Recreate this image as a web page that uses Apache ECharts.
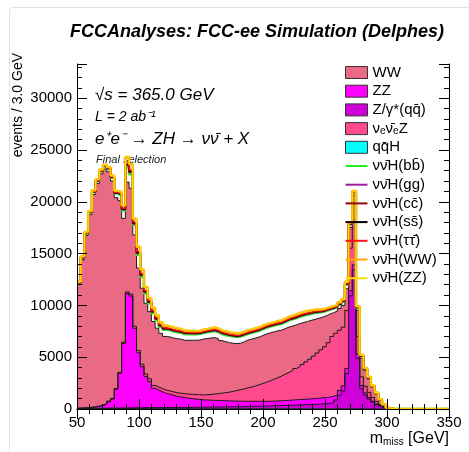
<!DOCTYPE html>
<html>
<head>
<meta charset="utf-8">
<script src="https://cdn.jsdelivr.net/npm/echarts@6/dist/echarts.min.js"></script>
<style>
  html, body { margin: 0; padding: 0; background: #fff; }
  #chart { width: 469px; height: 452px; }
</style>
</head>
<body>
<div id="chart"></div>
<script>
// histogram binning: 3 GeV bins from 50 to 350 GeV
const binStart = 50
const binWidth = 3
const xRange = [50, 350]
const yRange = [0, 33300]

// backgrounds, stacked bottom -> top
const qqH = [20,20,20,25,25,25,30,30,30,30, 35,35,40,40,40,40,35,35,35,30, 30,30,30,25,25,25,25,25,20,20,
  20,20,20,20,20,20,20,20,20,20, 20,20,20,20,20,20,20,20,20,20, 20,20,20,20,20,20,20,20,20,20,
  15,15,15,15,15,15,15,15,10,10, 10,10,15,20,20,10,8,6,5,4, 3,2,1,0,0,0,0,0,0,0, 0,0,0,0,0,0,0,0,0,0]
const zgamma = [40,40,40,45,45,50,50,50,50,55, 60,60,60,70,70,80,80,90,100,100, 100,110,110,110,120,120,120,130,130,130,
  140,140,150,150,160,160,170,170,180,180, 190,190,200,200,210,220,230,240,250,260, 270,280,290,300,310,320,330,340,360,370,
  390,400,420,440,460,480,500,530,600,850, 1300,1750,3400,10900,13400,4900,1950,1350,950,650, 420,230,90,18,4,0,0,0,0,0, 0,0,0,0,0,0,0,0,0,0]
const zz = [10,20,40,60,120,170,250,400,620,870, 1800,3350,6230,11040,10790,7660,5320,3960,2990,2510, 1870,1690,1530,1380,1280,1180,1080,1010,950,890,
  840,800,760,710,690,670,650,630,610,600, 580,560,550,530,520,500,490,480,470,460, 450,450,450,460,470,480,490,500,510,520,
  530,540,550,560,570,580,590,600,620,500, 480,470,500,500,500,400,300,200,150,100, 70,40,20,5,1,0,0,0,0,0, 0,0,0,0,0,0,0,0,0,0]
const nuenueZ = [20,25,30,35,40,45,50,55,60,70, 80,100,120,150,180,200,220,240,260,270, 280,290,300,310,320,330,340,360,380,400,
  420,440,450,470,510,560,600,660,720,780, 840,930,1010,1110,1200,1300,1390,1490,1600,1720, 1840,1970,2110,2240,2380,2540,2690,2850,3020,3180,
  3370,3600,3820,4090,4360,4630,4900,5260,5770,5940, 5810,5670,5600,4100,4300,1700,850,650,500,350, 230,150,80,17,5,0,0,0,0,0, 0,0,0,0,0,0,0,0,0,0]
const ww = [11960,14300,16620,18590,20470,21470,22320,22620,22140,20980, 18420,16560,11950,10600,10220,8820,7950,7330,6820,6490,
  6170,5680,5330,5180,5210,5190,5220,5210,5150,5190, 5210,5240,5270,5400,5420,5440,5460,5320,5070,4920,
  4770,4650,4520,4490,4550,4610,4620,4620,4610,4640, 4670,4630,4580,4530,4420,4400,4380,4300,4210,4160,
  4050,3900,3750,3550,3350,3150,3000,2750,2300,2150, 2100,2100,2100,2000,2400,2500,1800,1500,1300,1000,
  730,430,190,40,10,0,0,0,0,0, 0,0,0,0,0,0,0,0,0,0]

// signals, stacked on top of the backgrounds (lines only)
const hbb = [150,200,200,220,250,250,250,260,280,320, 400,500,750,1400,1350,950,1250,1100,950,800, 800,780,650,640,640,630,620,610,600,590,
  580,580,580,590,600,610,620,630,640,650, 650,650,650,640,620,600,600,600,600,600, 600,600,600,600,610,620,640,650,660,660,
  660,650,630,600,550,500,460,430,400,380, 370,360,400,300,250,250,200,150,120,100, 80,60,40,20,10,0,0,0,0,0, 0,0,0,0,0,0,0,0,0,0]
const hgg = [20,30,30,35,40,40,40,40,40,50, 60,80,110,200,200,140,180,160,140,120, 120,110,100,100,90,90,90,80,80,80,
  70,70,70,70,70,80,80,80,80,80, 80,80,80,80,80,80,80,80,80,80, 80,80,80,80,80,80,80,80,80,80,
  80,80,80,80,70,60,60,60,50,50, 50,50,60,50,40,40,30,20,20,20, 10,10,10,0,0,0,0,0,0,0, 0,0,0,0,0,0,0,0,0,0]
const hcc = [8,10,10,10,12,12,12,12,14,16, 20,25,40,70,70,50,60,55,50,40, 40,40,35,30,30,30,30,30,25,25,
  25,25,25,25,25,25,25,25,25,25, 25,25,25,25,25,25,25,25,25,25, 25,25,25,25,25,25,25,25,25,25,
  25,25,25,25,25,20,20,20,20,20, 20,20,20,15,12,12,10,8,6,5, 4,3,2,1,0,0,0,0,0,0, 0,0,0,0,0,0,0,0,0,0]
const hss = [1,1,1,1,1,1,1,1,1,1, 2,2,3,5,5,3,4,4,3,3, 2,2,2,2,2,2,2,2,2,2,
  2,2,2,2,2,2,2,2,2,2, 2,2,2,2,2,2,2,2,2,2, 2,2,2,2,2,2,2,2,2,2,
  2,2,2,2,2,2,2,2,2,2, 2,2,2,1,1,1,1,1,1,1, 0,0,0,0,0,0,0,0,0,0, 0,0,0,0,0,0,0,0,0,0]
const htautau = [15,20,20,22,25,25,25,26,28,32, 40,50,75,140,135,95,125,110,95,80, 80,78,65,64,62,60,58,56,52,50,
  48,47,46,47,48,50,52,53,54,55, 55,55,55,54,52,50,50,50,50,50, 50,50,50,50,51,52,54,55,56,56,
  56,55,53,50,45,40,38,36,35,35, 35,35,40,30,25,25,20,15,12,10, 8,6,4,2,1,0,0,0,0,0, 0,0,0,0,0,0,0,0,0,0]
const hww = [50,70,70,80,90,90,90,90,100,110, 140,180,260,600,560,330,440,380,330,280, 280,270,230,220,220,210,200,200,180,180,
  170,160,160,160,170,180,180,190,190,190, 190,190,190,190,180,180,180,180,180,180, 180,180,180,180,180,180,190,190,200,200,
  200,190,190,180,160,140,130,130,120,120, 120,120,140,100,90,90,70,50,40,35, 30,20,15,8,4,0,0,0,0,0, 0,0,0,0,0,0,0,0,0,0]
const hzz = [8,10,10,10,12,12,12,12,14,16, 20,25,40,80,75,50,60,55,50,40, 40,40,35,30,30,30,30,30,25,25,
  25,25,25,25,25,25,25,25,25,25, 25,25,25,25,25,25,25,25,25,25, 25,25,25,25,25,25,25,25,25,25,
  25,25,25,25,25,20,20,20,20,20, 20,20,20,15,12,12,10,8,6,5, 4,3,2,1,0,0,0,0,0,0, 0,0,0,0,0,0,0,0,0,0]

const font = 'Liberation Sans, Arial, Helvetica, sans-serif'
const qbar = 'q\u0304'
const nnH = '\u03bd\u03bd\u0304H'

// stacking order, bottom -> top
const layers = [
  { name: 'q' + qbar + 'H', values: qqH, fill: '#00ffff' },
  { name: 'Z/\u03b3*(q' + qbar + ')', values: zgamma, fill: '#d000d8' },
  { name: 'ZZ', values: zz, fill: '#ff00ff' },
  { name: '\u03bd\u2091\u03bd\u0304\u2091Z', values: nuenueZ, fill: '#ff4a8d' },
  { name: 'WW', values: ww, fill: '#ea6a86' },
  { name: nnH + '(bb\u0304)', values: hbb, color: '#22ee22', width: 2.5 },
  { name: nnH + '(gg)', values: hgg, color: '#9a1fa0', width: 2 },
  { name: nnH + '(cc\u0304)', values: hcc, color: '#8b0a0a', width: 2 },
  { name: nnH + '(ss\u0304)', values: hss, color: '#000000', width: 1.5 },
  { name: nnH + '(\u03c4\u03c4\u0304)', values: htautau, color: '#ff1010', width: 1.5 },
  { name: nnH + '(WW)', values: hww, color: '#ffaa00', width: 2.5 },
  { name: nnH + '(ZZ)', values: hzz, color: '#ffdd00', width: 1 }
]

// running sums, like THStack
let running = qqH.map(() => 0)
layers.forEach(l => {
  running = running.map((v, i) => v + l.values[i])
  l.cumulative = running
})

// histogram points at lower bin edges, plus a closing point at the upper edge
const toSteps = values => {
  const pts = values.map((v, i) => [binStart + i * binWidth, v])
  pts.push([binStart + values.length * binWidth, values[values.length - 1]])
  return pts
}

const series = []
// filled backgrounds: top of stack first so lower layers paint over it
layers.filter(l => l.fill).slice().reverse().forEach(l => {
  series.push({
    name: l.name,
    type: 'line',
    step: 'end',
    symbol: 'none',
    data: toSteps(l.cumulative),
    itemStyle: { color: l.fill },
    lineStyle: { color: '#1a1a1a', width: 1 },
    areaStyle: { color: l.fill, opacity: 1 },
    emphasis: { disabled: true },
    z: 2
  })
})
layers.filter(l => l.color).forEach(l => {
  series.push({
    name: l.name,
    type: 'line',
    step: 'end',
    symbol: 'none',
    data: toSteps(l.cumulative),
    itemStyle: { color: l.color },
    lineStyle: { color: l.color, width: l.width },
    emphasis: { disabled: true },
    z: 3
  })
})

// legend order as in the reference
const legendNames = ['WW', 'ZZ', 'Z/\u03b3*(q' + qbar + ')', '\u03bd\u2091\u03bd\u0304\u2091Z', 'q' + qbar + 'H']
  .concat(layers.filter(l => l.color).map(l => l.name))
const legendData = legendNames.map(n => {
  const l = layers.find(x => x.name === n)
  if (l.fill) return { name: n, icon: 'rect', itemStyle: { color: l.fill, borderColor: '#333', borderWidth: 1 } }
  return { name: n, icon: 'path://M0,0L22,0L22,2L0,2Z', itemStyle: { color: l.color } }
})

const axisCommon = {
  axisLine: { show: true, lineStyle: { color: '#000', width: 1 } },
  axisTick: { show: true, inside: true, length: 10, lineStyle: { color: '#000' } },
  minorTick: { show: true, splitNumber: 5, length: 5, lineStyle: { color: '#000' } },
  splitLine: { show: false },
  z: 5
}
const labelStyle = { color: '#000', fontFamily: font, fontSize: 15, formatter: v => String(v) }

const chart = echarts.init(document.getElementById('chart'), null, { renderer: 'canvas' })

const option = {
  animation: false,
  backgroundColor: '#fff',
  grid: { left: 77, right: 20, top: 64, bottom: 43 },
  xAxis: [
    Object.assign({}, axisCommon, {
      type: 'value', min: xRange[0], max: xRange[1], interval: 50, position: 'bottom',
      axisLabel: Object.assign({ margin: 6 }, labelStyle)
    }),
    Object.assign({}, axisCommon, {
      type: 'value', min: xRange[0], max: xRange[1], interval: 50, position: 'top',
      axisLabel: { show: false }
    })
  ],
  yAxis: [
    Object.assign({}, axisCommon, {
      type: 'value', min: yRange[0], max: yRange[1], interval: 5000, position: 'left',
      axisLabel: Object.assign({ margin: 5, showMaxLabel: false }, labelStyle)
    }),
    Object.assign({}, axisCommon, {
      type: 'value', min: yRange[0], max: yRange[1], interval: 5000, position: 'right',
      axisLabel: { show: false }
    })
  ],
  legend: {
    orient: 'vertical',
    left: 340,
    top: 60,
    itemWidth: 22,
    itemHeight: 12,
    itemGap: 3.7,
    selectedMode: false,
    textStyle: { color: '#000', fontFamily: font, fontSize: 15 },
    data: legendData
  },
  graphic: [
    // faint canvas border of the original screenshot
    { type: 'rect', shape: { x: 9.5, y: 7.5, width: 480, height: 470, r: 3 }, style: { fill: 'none', stroke: '#e2e2e2', lineWidth: 1 }, z: -1 },
    { type: 'text', x: 257, y: 32, style: { text: 'FCCAnalyses: FCC-ee Simulation (Delphes)', font: 'italic bold 18px ' + font, fill: '#000', textAlign: 'center', textVerticalAlign: 'middle' } },
    { type: 'text', x: 18, y: 53, rotation: Math.PI / 2, style: { text: 'events / 3.0 GeV', font: '14px ' + font, fill: '#000', textAlign: 'right', textVerticalAlign: 'middle' } },
    { type: 'text', x: 95, y: 95, style: { text: '\u221as = 365.0 GeV', font: 'italic 17px ' + font, fill: '#000', textVerticalAlign: 'middle' } },
    { type: 'text', x: 95, y: 117, style: { text: 'L = 2 ab\u207b\u00b9', font: 'italic 14px ' + font, fill: '#000', textVerticalAlign: 'middle' } },
    { type: 'text', x: 95, y: 139, style: { text: 'e\u207ae\u207b \u2192 ZH \u2192 \u03bd\u03bd\u0304 + X', font: 'italic 17px ' + font, fill: '#000', textVerticalAlign: 'middle' } },
    { type: 'text', x: 96, y: 160, style: { text: 'Final selection', font: 'italic 11px ' + font, fill: '#222', textVerticalAlign: 'middle' } },
    { type: 'text', x: 449, y: 439, style: {
      text: 'm{sub|miss} [GeV]', font: '16px ' + font, fill: '#000', textAlign: 'right', textVerticalAlign: 'middle',
      rich: { sub: { fontSize: 10, fontFamily: font, verticalAlign: 'bottom', padding: [6, 0, 0, 0] } }
    } }
  ],
  series: series
}

chart.setOption(option)
window.addEventListener('resize', () => chart.resize())
</script>
</body>
</html>
